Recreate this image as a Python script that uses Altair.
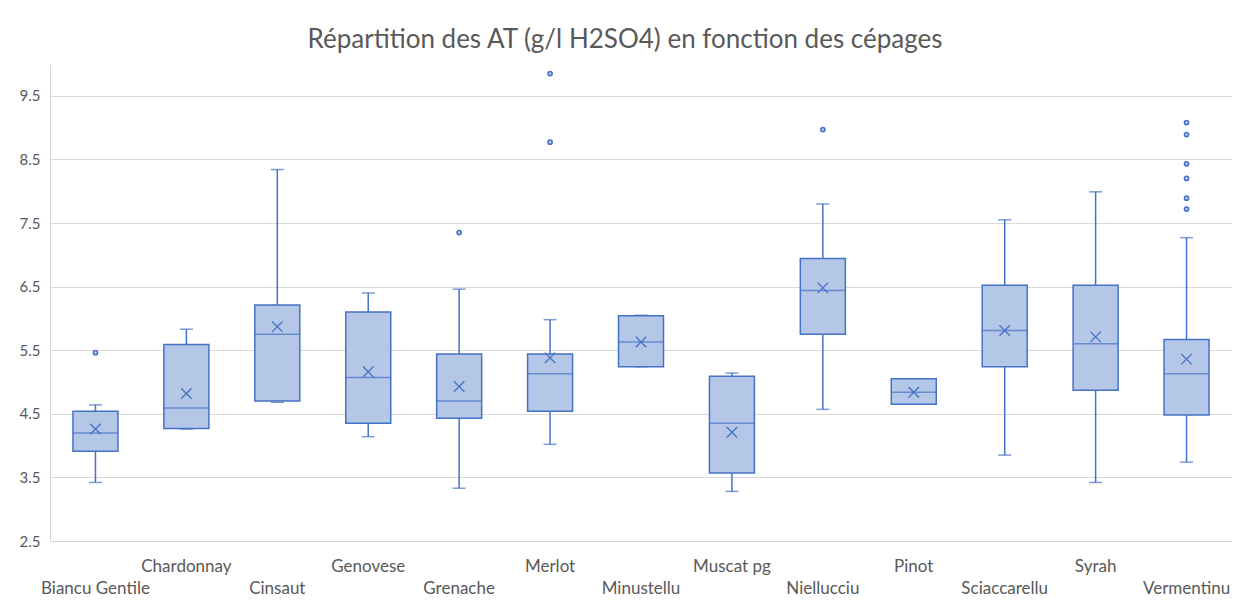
import json
import altair as alt
import pandas as pd

# ---- data ----
CATEGORIES = ["Biancu Gentile", "Chardonnay", "Cinsaut", "Genovese", "Grenache",
              "Merlot", "Minustellu", "Muscat pg", "Niellucciu", "Pinot",
              "Sciaccarellu", "Syrah", "Vermentinu"]
WHISKER_LOW = [3.42, 4.26, 4.68, 4.14, 3.33, 4.02, 5.24, 3.28, 4.57, 4.65, 3.85, 3.42, 3.74]
Q1 =          [3.91, 4.27, 4.70, 4.35, 4.43, 4.54, 5.24, 3.57, 5.75, 4.65, 5.24, 4.87, 4.48]
MEDIAN =      [4.20, 4.59, 5.75, 5.07, 4.70, 5.13, 5.63, 4.35, 6.44, 4.84, 5.81, 5.60, 5.13]
Q3 =          [4.54, 5.59, 6.21, 6.10, 5.44, 5.44, 6.04, 5.09, 6.94, 5.05, 6.52, 6.52, 5.67]
WHISKER_HIGH = [4.64, 5.83, 8.34, 6.40, 6.46, 5.98, 6.05, 5.14, 7.80, 5.05, 7.55, 7.99, 7.27]
MEAN =        [4.26, 4.82, 5.87, 5.16, 4.93, 5.38, 5.63, 4.21, 6.48, 4.84, 5.81, 5.71, 5.36]
OUTLIER_CATEGORY = ["Biancu Gentile", "Grenache", "Merlot", "Merlot", "Niellucciu",
                    "Vermentinu", "Vermentinu", "Vermentinu", "Vermentinu",
                    "Vermentinu", "Vermentinu"]
OUTLIER_VALUE = [5.46, 7.35, 9.85, 8.77, 8.97, 9.08, 8.89, 8.43, 8.20, 7.89, 7.72]
Y_TICKS = [2.5, 3.5, 4.5, 5.5, 6.5, 7.5, 8.5, 9.5]
TITLE = "Répartition des AT (g/l H2SO4) en fonction des cépages"

stats = pd.DataFrame({
    "cepage": CATEGORIES, "lo": WHISKER_LOW, "q1": Q1, "med": MEDIAN,
    "q3": Q3, "hi": WHISKER_HIGH, "mean": MEAN,
})
outliers = pd.DataFrame({"cepage": OUTLIER_CATEGORY, "val": OUTLIER_VALUE})

STROKE = "#4472c4"
FILL = "#b4c7e7"
TEXT = "#595959"
GRID = "#d9d9d9"
FONT = "Lato"

cat_js = json.dumps(CATEGORIES)
label_expr = f"indexof({cat_js}, datum.value) % 2 == 0 ? ['', datum.label] : datum.label"

x = alt.X("cepage:N", sort=CATEGORIES,
          scale=alt.Scale(paddingInner=0, paddingOuter=0),
          axis=alt.Axis(title=None, labelAngle=0, ticks=False, domain=False,
                        labelExpr=label_expr, labelFontSize=17, labelColor=TEXT,
                        labelFont=FONT, labelPadding=17, labelLineHeight=22,
                        labelBaseline="top"))

yscale = alt.Scale(domain=[2.5, 10], nice=False, zero=False)
yaxis = alt.Axis(title=None, values=Y_TICKS, format=".1f", grid=True,
                 gridColor=GRID, gridWidth=1, ticks=False, domainColor=GRID,
                 labelFontSize=15, labelColor=TEXT, labelFont=FONT, labelPadding=10)

base = alt.Chart(stats)

whisker = base.mark_rule(color=STROKE, strokeWidth=1.5).encode(
    x=x, y=alt.Y("lo:Q", scale=yscale, axis=yaxis), y2="hi:Q")
cap_lo = base.mark_tick(color=STROKE, size=13, thickness=1.5).encode(
    x=x, y=alt.Y("lo:Q", scale=yscale))
cap_hi = base.mark_tick(color=STROKE, size=13, thickness=1.5).encode(
    x=x, y=alt.Y("hi:Q", scale=yscale))
box = base.mark_bar(size=45, fill=FILL, stroke=STROKE, strokeWidth=1.5).encode(
    x=x, y=alt.Y("q1:Q", scale=yscale), y2="q3:Q")
median = base.mark_tick(color=STROKE, size=45, thickness=1.5).encode(
    x=x, y=alt.Y("med:Q", scale=yscale))
mean = base.mark_point(shape="M-1,-1L1,1M-1,1L1,-1", size=110, filled=False,
                       color=STROKE, strokeWidth=1.3, opacity=1).encode(
    x=x, y=alt.Y("mean:Q", scale=yscale))
out = alt.Chart(outliers).mark_point(shape="circle", size=18, filled=True,
                                     fill=FILL, stroke=STROKE, strokeWidth=1.5,
                                     opacity=1).encode(
    x=x, y=alt.Y("val:Q", scale=yscale))

chart = alt.layer(whisker, cap_lo, cap_hi, box, median, mean, out).properties(
    width=1182, height=477,
    title=alt.TitleParams(TITLE, fontSize=26, font=FONT, color=TEXT,
                          fontWeight="normal", anchor="middle", dx=-16, offset=11),
    autosize=alt.AutoSizeParams(type="none"),
    padding={"left": 42, "top": 56, "right": 0, "bottom": 60},
).configure_view(strokeWidth=0)

chart.save("out.html", embed_options={"renderer": "svg", "actions": False})
